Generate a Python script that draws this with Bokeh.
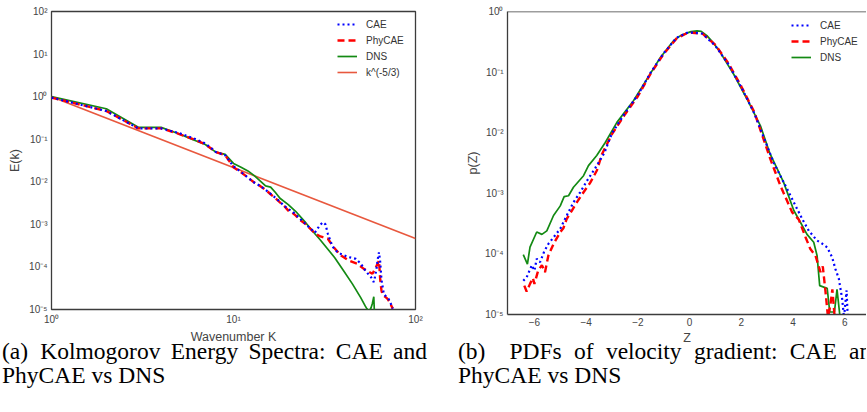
from bokeh.plotting import figure
from bokeh.models import (Legend, FixedTicker, CustomJSTickFormatter, Div, Span, Range1d)
from bokeh.layouts import column, row
from bokeh.embed import file_html
from bokeh.resources import INLINE

# ---------------- data: panel (a) energy spectra ----------------
k_dns = [1, 2, 3, 4, 5, 6, 7, 8, 9, 10, 11, 12, 13, 14, 15, 16, 17, 18, 20, 22, 25, 28, 30,
         33, 36, 40, 45, 50, 53, 54, 55, 56, 57, 58, 59, 60]
E_dns = [1.0, 0.52, 0.19, 0.19, 0.134, 0.097, 0.075, 0.0496, 0.044, 0.027, 0.022, 0.018, 0.014,
         0.0105, 0.0080, 0.0075, 0.0056, 0.0041, 0.0029, 0.0020, 0.00108, 0.00060, 0.00043,
         0.00026, 0.000165, 0.000085, 0.000040, 0.000019, 0.000012, 0.0000105, 0.0000095,
         0.0000095, 0.000011, 0.000014, 0.00002, 0.000003]

k_phy = [1, 2, 3, 4, 5, 6, 7, 8, 9, 10, 11, 12, 13, 14, 15, 16, 17, 18, 19, 20, 21, 22, 23, 25,
         27, 28, 30, 31, 33, 34, 36, 39, 43, 48, 52, 55, 58, 60, 62, 63, 64, 65, 66, 68, 70, 72, 75]
E_phy = [0.95, 0.46, 0.18, 0.18, 0.134, 0.10, 0.076, 0.050, 0.042, 0.022, 0.0168, 0.0125, 0.0096,
         0.0080, 0.0065, 0.0051, 0.0041, 0.0033, 0.0027, 0.0021, 0.0019, 0.0016, 0.0013, 0.00100,
         0.00072, 0.00061, 0.00052, 0.00050, 0.00046, 0.00038, 0.00027, 0.000185, 0.000141,
         0.000118, 0.00009, 0.000078, 0.000069, 0.00009, 0.00012, 0.000141, 0.00005, 0.000028,
         0.000022, 0.000020, 0.000018, 0.000015, 0.0000105]

k_cae = [1, 2, 3, 4, 5, 6, 7, 8, 9, 10, 11, 12, 13, 14, 15, 16, 17, 18, 19, 20, 21, 22, 23, 25,
         27, 28, 29, 30, 31, 32, 33, 34, 35, 37, 39, 43, 47, 50, 53, 55, 57, 59, 60, 61, 62, 63,
         64, 65, 67, 69, 71, 73, 75]
E_cae = [0.95, 0.46, 0.18, 0.18, 0.14, 0.106, 0.08, 0.050, 0.042, 0.023, 0.017, 0.0125, 0.0096,
         0.0080, 0.0065, 0.0052, 0.0042, 0.0034, 0.0027, 0.0023, 0.0020, 0.0017, 0.0014, 0.0010,
         0.00074, 0.00064, 0.00080, 0.00098, 0.00112, 0.00100, 0.00060, 0.00042, 0.00030,
         0.00023, 0.00020, 0.00017, 0.000155, 0.00012, 0.000082, 0.000068, 0.000057, 0.000044,
         0.00006, 0.00009, 0.00015, 0.00022, 0.00013, 0.00005, 0.000023, 0.00002, 0.000018,
         0.000014, 0.0000105]

k_ref = [1, 100]
E_ref = [1.0, 0.000464]

ticks_a_x = [1, 10, 100]
ticks_a_y = [1e-5, 1e-4, 1e-3, 1e-2, 1e-1, 1, 10, 100]

# ---------------- data: panel (b) PDFs ----------------
z_dns = [-6.43, -6.27, -6.17, -5.91, -5.71, -5.52, -5.26, -5.0, -4.85, -4.68, -4.49, -4.10, -3.91,
         -3.59, -3.26, -2.81, -2.17, -1.65, -1.13, -0.62, -0.35, -0.10, 0.05, 0.29, 0.45, 0.67,
         0.9, 1.19, 1.70, 2.22, 2.74, 3.1, 3.64, 4.03, 4.29, 4.54, 4.80, 4.93, 5.03, 5.32, 5.42,
         5.60, 5.70, 5.83]
p_dns = [9.7e-5, 6.8e-5, 1.29e-4, 2.3e-4, 2.1e-4, 2.4e-4, 4.3e-4, 6.2e-4, 8.8e-4, 9.1e-4, 1.26e-3,
         1.95e-3, 2.86e-3, 4.2e-3, 6.9e-3, 0.0148, 0.0337, 0.0766, 0.174, 0.33, 0.40, 0.44, 0.465,
         0.48, 0.47, 0.40, 0.31, 0.21, 0.093, 0.036, 0.013, 4.6e-3, 1.5e-3, 5.2e-4, 3.3e-4, 2.1e-4,
         1.56e-4, 9.3e-5, 3.0e-5, 2.7e-5, 1.1e-5, 1.1e-5, 2.6e-5, 8e-6]

z_phy = [-6.39, -6.30, -6.17, -6.06, -6.0, -5.85, -5.71, -5.59, -5.46, -5.26, -5.0, -4.88, -4.75,
         -4.55, -4.36, -4.10, -3.84, -3.58, -3.39, -3.0, -2.5, -2.0, -1.5, -1.0, -0.5, -0.1, 0.1,
         0.5, 1.0, 1.5, 2.0, 2.5, 3.12, 3.51, 3.96, 4.22, 4.48, 4.67, 4.87, 5.06, 5.15, 5.25, 5.35,
         5.45, 5.52, 5.62]
p_phy = [3.0e-5, 2.4e-5, 3.2e-5, 4.0e-5, 3.2e-5, 5.4e-5, 6.5e-5, 5.0e-5, 9.4e-5, 1.46e-4, 2.3e-4,
         2.65e-4, 3.8e-4, 5.2e-4, 7.1e-4, 1.04e-3, 1.5e-3, 2.4e-3, 4.4e-3, 0.0095, 0.020, 0.040,
         0.095, 0.20, 0.36, 0.44, 0.445, 0.43, 0.28, 0.14, 0.058, 0.022, 3.7e-3, 1.34e-3, 4.9e-4,
         3.7e-4, 1.9e-4, 1.2e-4, 9.3e-5, 5e-5, 6.2e-5, 2.5e-5, 9e-6, 1.5e-5, 2.6e-5, 8e-6]

z_cae = [-6.43, -6.30, -6.19, -6.10, -6.0, -5.91, -5.78, -5.62, -5.46, -5.25, -5.0, -4.75, -4.49,
         -4.23, -3.97, -3.65, -3.3, -3.0, -2.5, -2.0, -1.5, -1.0, -0.5, -0.1, 0.1, 0.5, 1.0, 1.5,
         2.0, 2.5, 3.25, 3.77, 4.35, 4.61, 4.93, 5.1, 5.32, 5.51, 5.64, 5.77, 5.90, 5.97, 6.07,
         6.12]
p_cae = [3.6e-5, 4.1e-5, 5.3e-5, 6.5e-5, 5.3e-5, 8.3e-5, 7.3e-5, 1.1e-4, 1.46e-4, 1.9e-4, 2.6e-4,
         4.3e-4, 7.1e-4, 1.04e-3, 1.6e-3, 2.6e-3, 4.6e-3, 0.0098, 0.021, 0.042, 0.099, 0.205, 0.37,
         0.445, 0.45, 0.43, 0.27, 0.135, 0.056, 0.021, 3.2e-3, 1.18e-3, 3.8e-4, 2.4e-4, 1.66e-4,
         1.5e-4, 1.28e-4, 8.8e-5, 5.6e-5, 3.9e-5, 1.8e-5, 9e-6, 2.5e-5, 8e-6]

ticks_b_x = [-6, -4, -2, 0, 2, 4, 6]
ticks_b_y = [1e-5, 1e-4, 1e-3, 1e-2, 1e-1, 1]

caption_a = "(a)&#8202; Kolmogorov Energy Spectra: CAE and PhyCAE vs DNS"
caption_b = "(b)&ensp; PDFs of velocity gradient: CAE and PhyCAE vs DNS"

# ---------------- styling helpers ----------------
SANS = "Liberation Sans"
FRAME = "#3c3c3c"
TXT = "#333333"
LBL = "#444444"

SUP = CustomJSTickFormatter(code="""
const sup = {'0':'\u2070','1':'\u00b9','2':'\u00b2','3':'\u00b3','4':'\u2074','5':'\u2075',
             '6':'\u2076','7':'\u2077','8':'\u2078','9':'\u2079','-':'\u207b'};
const e = Math.round(Math.log10(tick));
return '10' + String(e).split('').map(c => sup[c]).join('');
""")
MINUS = CustomJSTickFormatter(code="""
return (tick < 0 ? '\u2212' : '') + Math.abs(tick).toString();
""")


def style_axes(p):
    for ax in (p.xaxis[0], p.yaxis[0]):
        ax.major_tick_line_color = None
        ax.minor_tick_line_color = None
        ax.major_tick_out = 0
        ax.major_tick_in = 0
        ax.minor_tick_out = 0
        ax.minor_tick_in = 0
        ax.major_label_text_font = SANS
        ax.major_label_text_font_size = "10px"
        ax.major_label_text_color = LBL
        ax.axis_label_text_font = SANS
        ax.axis_label_text_font_size = "12.5px"
        ax.axis_label_text_font_style = "normal"
        ax.axis_label_text_color = LBL
    p.xgrid.visible = False
    p.ygrid.visible = False


def add_legend(p, items, vx, vy):
    leg = Legend(items=items, location=(vx, vy), padding=0, margin=0, spacing=0,
                 glyph_width=20, glyph_height=16, label_height=16, label_standoff=9,
                 label_text_font=SANS, label_text_font_size="10px", label_text_color=TXT,
                 border_line_color=None, background_fill_alpha=0)
    p.add_layout(leg)


# ---------------- panel (a) ----------------
pa = figure(frame_width=364, frame_height=298, x_axis_type="log", y_axis_type="log",
            x_range=Range1d(1, 100), y_range=Range1d(1e-5, 1e2),
            output_backend="svg", toolbar_location=None, title_location=None,
            min_border_left=51, min_border_right=30, min_border_top=11, min_border_bottom=43)
pa.outline_line_color = FRAME
pa.outline_line_width = 1.3
style_axes(pa)
pa.xaxis.ticker = FixedTicker(ticks=ticks_a_x)
pa.yaxis.ticker = FixedTicker(ticks=ticks_a_y)
pa.xaxis.formatter = SUP
pa.yaxis.formatter = SUP
pa.xaxis.axis_line_color = None
pa.yaxis.axis_line_color = None
pa.xaxis.axis_label = "Wavenumber K"
pa.yaxis.axis_label = "E(k)"
pa.xaxis.major_label_standoff = 4
pa.yaxis.major_label_standoff = 4
pa.xaxis.axis_label_standoff = 2
pa.yaxis.axis_label_standoff = 4

ra_ref = pa.line(k_ref, E_ref, line_color="#e8583e", line_width=1.6)
ra_dns = pa.line(k_dns, E_dns, line_color="#138a13", line_width=1.7)
ra_phy = pa.line(k_phy, E_phy, line_color="#ff0000", line_width=2.4, line_dash="7 4")
ra_cae = pa.line(k_cae, E_cae, line_color="#0000ff", line_width=2.2, line_dash="2 3")
add_legend(pa, [("CAE", [ra_cae]), ("PhyCAE", [ra_phy]), ("DNS", [ra_dns]),
                ("k^(-5/3)", [ra_ref])], 286, 229)

# ---------------- panel (b) ----------------
pb = figure(frame_width=359, frame_height=303, y_axis_type="log",
            x_range=Range1d(-7.04, 6.84), y_range=Range1d(1e-5, 1.0),
            output_backend="svg", toolbar_location=None, title_location=None,
            min_border_left=62, min_border_right=0, min_border_top=9, min_border_bottom=40)
pb.outline_line_color = None
style_axes(pb)
pb.xaxis.ticker = FixedTicker(ticks=ticks_b_x)
pb.yaxis.ticker = FixedTicker(ticks=ticks_b_y)
pb.xaxis.formatter = MINUS
pb.yaxis.formatter = SUP
for ax in (pb.xaxis[0], pb.yaxis[0]):
    ax.axis_line_color = FRAME
    ax.axis_line_width = 1.3
pb.add_layout(Span(location=1.0, dimension="width", line_color=FRAME, line_width=1.3))
pb.xaxis.axis_label = "Z"
pb.yaxis.axis_label = "p(Z)"
pb.xaxis.major_label_standoff = 3
pb.yaxis.major_label_standoff = 4
pb.xaxis.axis_label_standoff = 2
pb.yaxis.axis_label_standoff = 2

rb_dns = pb.line(z_dns, p_dns, line_color="#138a13", line_width=1.7)
rb_phy = pb.line(z_phy, p_phy, line_color="#ff0000", line_width=2.4, line_dash="7 4")
rb_cae = pb.line(z_cae, p_cae, line_color="#0000ff", line_width=2.2, line_dash="2 3")
add_legend(pb, [("CAE", [rb_cae]), ("PhyCAE", [rb_phy]), ("DNS", [rb_dns])], 284, 249)

# ---------------- captions ----------------
cap_html = (
    '<div style="position:relative;left:0px;width:866px;height:83px;overflow:hidden;'
    "font-family:'Liberation Serif',serif;font-size:23.5px;line-height:24px;color:#000;\">"
    '<div style="position:absolute;left:2px;top:11px;width:425px;text-align:justify;">'
    + caption_a + '</div>'
    '<div style="position:absolute;left:458px;top:11px;width:425px;text-align:justify;">'
    + caption_b + '</div>'
    '</div>'
)
cap = Div(text=cap_html, width=866, height=83, margin=(-24, 0, 0, 0))

p = column(row(pa, pb), cap)

open("out.html", "w").write(file_html(p, INLINE))
